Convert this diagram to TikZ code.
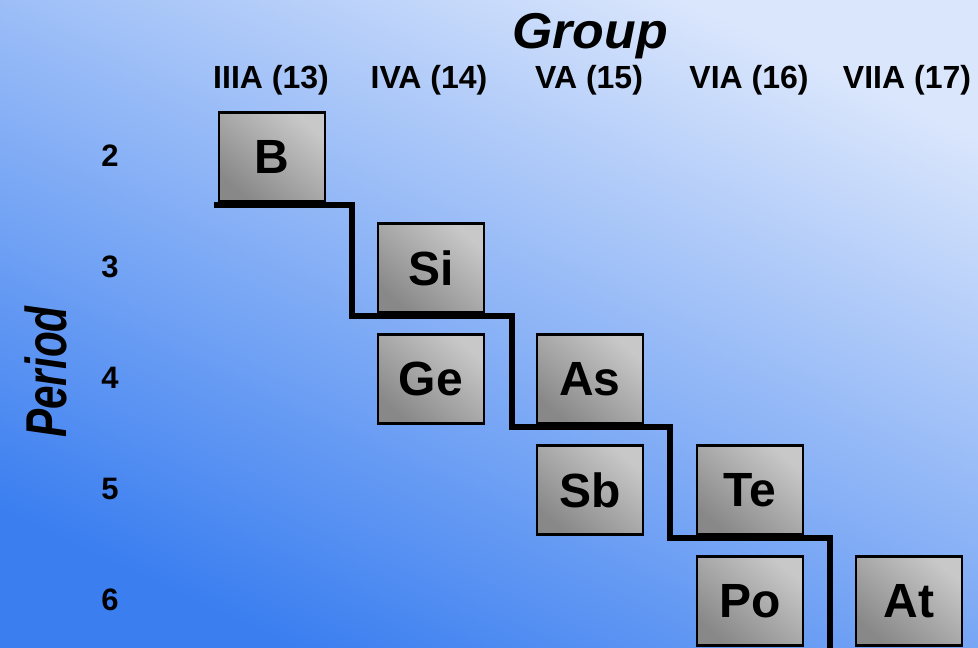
\documentclass[tikz,border=0pt]{standalone}
\usepackage{fontspec}
\setmainfont{Liberation Sans}
\usetikzlibrary{positioning, backgrounds}
\usepackage{xcolor}
\definecolor{bglight}{RGB}{218,230,252}
\definecolor{bgdark}{RGB}{58,126,240}
\definecolor{tilelight}{RGB}{200,200,200}
\definecolor{tiledark}{RGB}{136,136,136}
\tikzset{
  element/.style={draw=black, line width=2.5pt, minimum width=106pt, minimum height=89pt, inner sep=0pt,
    top color=tilelight, bottom color=tiledark, shading angle=-40, font=\fontsize{48}{48}\selectfont\bfseries},
  group head/.style={font=\fontsize{32}{32}\selectfont\bfseries},
  period num/.style={font=\fontsize{31}{31}\selectfont\bfseries},
  axis title/.style={font=\fontsize{48}{48}\selectfont\bfseries\itshape},
  stair line/.style={line width=6pt, black, line join=miter}
}

\begin{document}
\begin{tikzpicture}[x=1pt, y=-1pt]

  % =================================================================================
  % BACKGROUND
  % =================================================================================
  \useasboundingbox (0,0) rectangle (978,648);
  \shade[top color=bglight, bottom color=bgdark, shading angle=-25] (0,0) rectangle (978,648);

  % =================================================================================
  % AXIS TITLES AND HEADERS
  % =================================================================================
  \node[axis title] (Group) at (590,36) {\scalebox{1.08}[1.05]{Group}};
  \node[axis title, rotate=90] (Period) at (46,372) {\scalebox{0.88}[1.2]{Period}};

  % Group headers along the top
  \node[group head] (G13) at (271,80) {IIIA (13)};
  \node[group head] (G14) at (429,80) {IVA (14)};
  \node[group head] (G15) at (589,80) {VA (15)};
  \node[group head] (G16) at (749,80) {VIA (16)};
  \node[group head] (G17) at (907,80) {VIIA (17)};

  % Period numbers down the side
  \node[period num] (P2) at (110,156) {2};
  \node[period num] (P3) at (110,267) {3};
  \node[period num] (P4) at (110,378) {4};
  \node[period num] (P5) at (110,489) {5};
  \node[period num] (P6) at (110,600) {6};

  % =================================================================================
  % ELEMENT TILES
  % =================================================================================
  \node[element] (B)  at (272,157) {B};
  \node[element] (Si) at (431,268) {Si};
  \node[element] (Ge) at (431,379) {Ge};
  \node[element] (As) at (590,379) {As};
  \node[element] (Sb) at (590,490) {Sb};
  \node[element] (Te) at (750,490) {Te};
  \node[element] (Po) at (750,601) {Po};
  \node[element] (At) at (909,601) {At};

  % Metal / nonmetal staircase
  \draw[stair line] (214,205) -| (352,316) -| (512,427) -| (670,538) -| (830,650);

\end{tikzpicture}
\end{document}
